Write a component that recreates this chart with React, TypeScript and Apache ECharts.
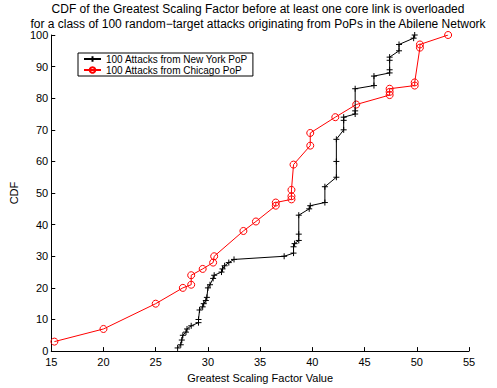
import React, { useEffect, useRef } from "react";
import * as echarts from "echarts";

const titleLines = [
  "CDF of the Greatest Scaling Factor before at least one core link is overloaded",
  "for a class of 100 random\u2212target attacks originating from PoPs in the Abilene Network",
];
const xAxisName = "Greatest Scaling Factor Value";
const yAxisName = "CDF";
const seriesNames = ["100 Attacks from New York PoP", "100 Attacks from Chicago PoP"];

const nyX = [27.1, 27.4, 27.5, 27.6, 27.9, 28.0, 28.4, 29.1, 29.1, 29.2, 29.5, 29.6, 29.8, 29.9, 30.0, 30.2, 30.5, 30.6, 31.3, 31.4, 31.6, 32.0, 32.5, 37.3, 38.2, 38.2, 38.3, 38.7, 38.7, 38.7, 39.7, 39.8, 41.2, 41.2, 42.3, 42.3, 42.3, 43.0, 43.0, 43.0, 44.1, 44.1, 44.1, 45.9, 45.9, 47.4, 47.4, 47.4, 47.4, 48.3, 48.3, 49.7, 49.8];
const nyY = [1, 2, 3.5, 5, 6, 7, 8, 9, 10, 13, 14, 15, 16, 17, 20, 21, 23, 24, 25, 26, 27, 28, 29, 30, 31, 33, 34, 35, 37, 43, 45, 46, 47, 52, 55, 60, 67, 70, 73, 74, 75, 76, 83, 84, 87, 88, 89, 92, 93, 95, 97, 99, 100];

const chX = [15.3, 20.0, 25.0, 27.6, 28.4, 28.4, 29.5, 30.5, 30.6, 33.4, 34.6, 36.5, 36.5, 38.0, 38.0, 38.0, 38.2, 39.8, 39.8, 42.2, 44.2, 47.4, 47.4, 47.4, 49.8, 49.8, 50.3, 50.3, 53.0];
const chY = [3, 7, 15, 20, 21, 24, 26, 28, 30, 38, 41, 46, 47, 48, 49, 51, 59, 65, 69, 74, 78, 81, 82, 83, 84, 85, 96, 97, 100];

const xTicks = { min: 15, max: 55, interval: 5 };
const yTicks = { min: 0, max: 100, interval: 10 };

const FONT = "Liberation Sans, Arial, Helvetica, sans-serif";

export default function App() {
  const ref = useRef<HTMLDivElement>(null);
  useEffect(() => {
    if (!ref.current) return;
    const chart = echarts.init(ref.current, undefined, { renderer: "svg" });
    const plus = "path://M0,5L10,5M5,0L5,10";
    chart.setOption({
      animation: false,
      backgroundColor: "#fff",
      textStyle: { fontFamily: FONT },
      title: {
        text: titleLines.join("\n"),
        left: 258,
        top: 1,
        textAlign: "center",
        padding: 0,
        textStyle: { fontFamily: FONT, fontSize: 12, fontWeight: "normal", color: "#000", lineHeight: 15 },
      },
      legend: {
        left: 78,
        top: 53,
        orient: "vertical",
        backgroundColor: "#fff",
        borderColor: "#000",
        borderWidth: 1,
        borderRadius: 0,
        padding: [1, 5, 1, 5],
        itemGap: 1,
        itemWidth: 17,
        itemHeight: 7,
        textStyle: { fontFamily: FONT, fontSize: 10, color: "#000" },
        data: seriesNames,
      },
      grid: { left: 45, right: 28, top: 35, bottom: 28, containLabel: false },
      xAxis: {
        type: "value",
        min: xTicks.min,
        max: xTicks.max,
        interval: xTicks.interval,
        name: xAxisName,
        nameLocation: "middle",
        nameGap: 16,
        nameTextStyle: { fontFamily: FONT, fontSize: 11, color: "#000" },
        axisLine: { show: true, lineStyle: { color: "#000", width: 1 } },
        axisTick: { show: true, inside: true, length: 4, lineStyle: { color: "#000" } },
        axisLabel: { fontFamily: FONT, fontSize: 11, color: "#000", margin: 5, lineHeight: 11 },
        splitLine: { show: false },
      },
      yAxis: {
        type: "value",
        min: yTicks.min,
        max: yTicks.max,
        interval: yTicks.interval,
        name: yAxisName,
        nameLocation: "middle",
        nameGap: 19,
        nameTextStyle: { fontFamily: FONT, fontSize: 11, color: "#000" },
        axisLine: { show: true, lineStyle: { color: "#000", width: 1 } },
        axisTick: { show: true, inside: true, length: 4, lineStyle: { color: "#000" } },
        axisLabel: { fontFamily: FONT, fontSize: 11, color: "#000", margin: 3, lineHeight: 11 },
        splitLine: { show: false },
      },
      series: [
        {
          name: seriesNames[0],
          type: "line",
          data: nyX.map((x, i) => [x, nyY[i]]),
          symbol: plus,
          symbolSize: 6,
          showAllSymbol: true,
          lineStyle: { color: "#000", width: 1 },
          itemStyle: { color: "rgba(0,0,0,0)", borderColor: "#000", borderWidth: 1 },
          z: 3,
        },
        {
          name: seriesNames[1],
          type: "line",
          data: chX.map((x, i) => [x, chY[i]]),
          symbol: "circle",
          symbolSize: 7,
          showAllSymbol: true,
          lineStyle: { color: "#ff0000", width: 1 },
          itemStyle: { color: "rgba(255,255,255,0)", borderColor: "#ff0000", borderWidth: 1 },
          z: 2,
        },
      ],
    });
    return () => chart.dispose();
  }, []);
  return (
    <div
      ref={ref}
      style={{ position: "fixed", left: 0, top: 0, width: 497, height: 388, background: "#fff" }}
    />
  );
}
